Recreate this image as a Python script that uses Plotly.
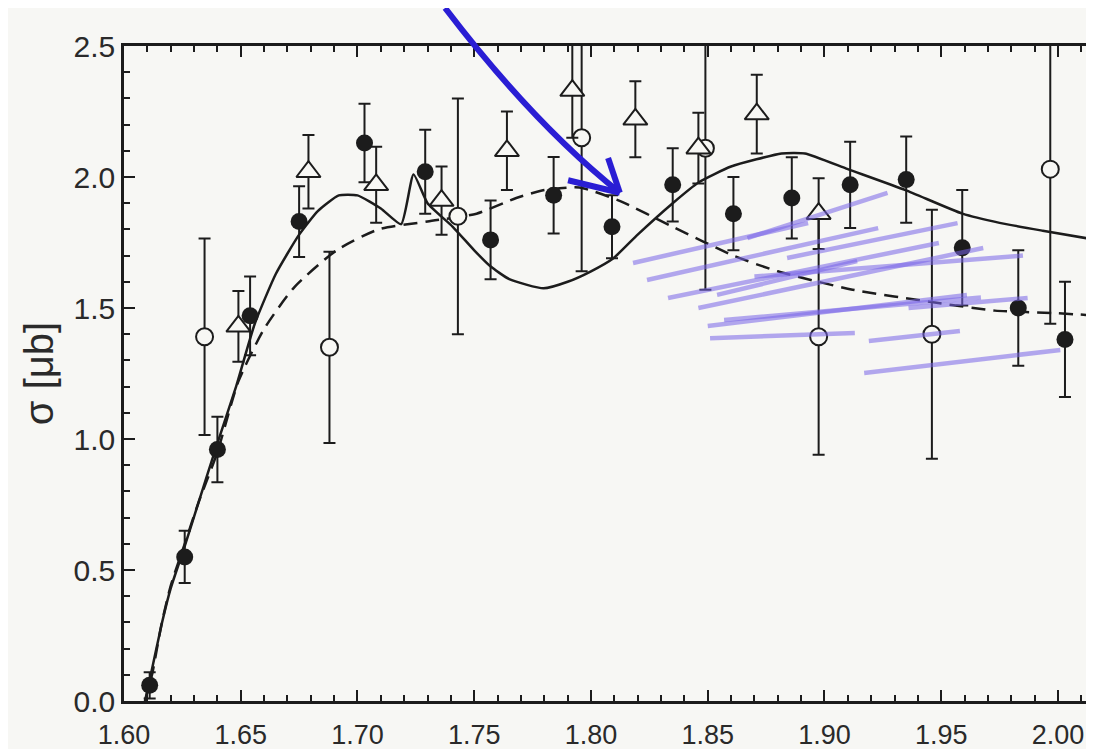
import plotly.graph_objects as go

# ---------------- data ----------------
# filled circles
filled_x = [1.611, 1.626, 1.640, 1.654, 1.675, 1.703, 1.729, 1.757, 1.784, 1.809,
            1.835, 1.861, 1.886, 1.911, 1.935, 1.959, 1.983, 2.003]
filled_y = [0.06, 0.55, 0.96, 1.47, 1.83, 2.13, 2.02, 1.76, 1.93, 1.81,
            1.97, 1.86, 1.92, 1.97, 1.99, 1.73, 1.50, 1.38]
filled_err = [0.05, 0.10, 0.125, 0.15, 0.135, 0.15, 0.16, 0.15, 0.146, 0.12,
              0.14, 0.14, 0.155, 0.165, 0.165, 0.22, 0.22, 0.22]

# open circles
open_x = [1.6345, 1.688, 1.743, 1.796, 1.849, 1.8975, 1.946, 1.9967]
open_y = [1.39, 1.35, 1.85, 2.15, 2.11, 1.39, 1.40, 2.03]
open_err = [0.375, 0.365, 0.45, 0.51, 0.54, 0.45, 0.475, 0.59]

# open triangles
tri_x = [1.649, 1.679, 1.708, 1.736, 1.764, 1.792, 1.819, 1.846, 1.871, 1.8975]
tri_y = [1.43, 2.02, 1.97, 1.91, 2.10, 2.33, 2.22, 2.11, 2.24, 1.86]
tri_err = [0.135, 0.14, 0.145, 0.13, 0.15, 0.18, 0.145, 0.135, 0.15, 0.135]

# solid model curve
solid_x = [1.609, 1.611, 1.6163, 1.620, 1.6256, 1.632, 1.6395, 1.648, 1.656, 1.665,
           1.675, 1.683, 1.692, 1.700, 1.710, 1.7187, 1.724, 1.730, 1.7408, 1.750,
           1.7568, 1.765, 1.7797, 1.790, 1.800, 1.8096, 1.820, 1.835, 1.8462, 1.860,
           1.8816, 1.8916, 1.910, 1.9347, 1.9591, 1.975, 1.9935, 2.0164]
solid_y = [0.00, 0.08, 0.30, 0.43, 0.58, 0.76, 0.97, 1.20, 1.44, 1.63,
           1.78, 1.87, 1.93, 1.93, 1.88, 1.82, 2.01, 1.90, 1.81, 1.72,
           1.66, 1.61, 1.575, 1.60, 1.64, 1.69, 1.78, 1.90, 1.98, 2.04,
           2.09, 2.09, 2.03, 1.95, 1.86, 1.825, 1.795, 1.76]

# dashed model curve
dashed_x = [1.609, 1.612, 1.616, 1.620, 1.626, 1.632, 1.640, 1.649, 1.660, 1.673,
            1.691, 1.709, 1.730, 1.751, 1.768, 1.780, 1.795, 1.812, 1.835, 1.861,
            1.880, 1.912, 1.948, 1.973, 2.000, 2.018]
dashed_y = [0.00, 0.10, 0.29, 0.44, 0.60, 0.76, 0.95, 1.22, 1.42, 1.58,
            1.72, 1.80, 1.83, 1.86, 1.92, 1.95, 1.96, 1.91, 1.81, 1.70,
            1.64, 1.57, 1.52, 1.49, 1.48, 1.47]

x_ticks = [1.60, 1.65, 1.70, 1.75, 1.80, 1.85, 1.90, 1.95, 2.00]
y_ticks = [0.0, 0.5, 1.0, 1.5, 2.0, 2.5]

# hand-drawn highlight strokes on the scan (x0, y0, x1, y1) in data units
scribbles = [
    (1.818, 1.672, 1.893, 1.824), (1.824, 1.607, 1.923, 1.805),
    (1.833, 1.538, 1.949, 1.748), (1.846, 1.500, 1.968, 1.729),
    (1.850, 1.431, 1.961, 1.550), (1.854, 1.550, 1.914, 1.679),
    (1.857, 1.454, 1.967, 1.540), (1.851, 1.385, 1.913, 1.405),
    (1.919, 1.374, 1.958, 1.412), (1.917, 1.252, 2.001, 1.340),
    (1.867, 1.767, 1.927, 1.939), (1.884, 1.691, 1.957, 1.824),
    (1.936, 1.500, 1.987, 1.538), (1.870, 1.620, 1.985, 1.700),
]

# hand-drawn blue arrow on the scan (paper units)
arrow_path = "M 0.329,1.058 Q 0.419,0.882 0.508,0.776"
arrow_head = [(0.508, 0.776, 0.455, 0.795), (0.508, 0.776, 0.496, 0.829)]

INK = "#1c1c1c"
PAPER = "#f7f7f4"
TXT = "#2a2a2a"
FONT = "Liberation Sans"
BLUE = "#2a1ed4"

fig = go.Figure()

fig.add_trace(go.Scatter(x=dashed_x, y=dashed_y, mode="lines",
                         line=dict(color=INK, width=2.5, dash="14px,8px", shape="spline", smoothing=0.6),
                         hoverinfo="skip", showlegend=False))
fig.add_trace(go.Scatter(x=solid_x, y=solid_y, mode="lines",
                         line=dict(color=INK, width=2.5, shape="spline", smoothing=0.5),
                         hoverinfo="skip", showlegend=False))

errstyle = dict(type="data", color=INK, thickness=2, width=6)

fig.add_trace(go.Scatter(x=open_x, y=open_y, mode="markers",
                         error_y=dict(array=open_err, **errstyle),
                         marker=dict(symbol="circle", size=17, color=PAPER,
                                     line=dict(color=INK, width=2)),
                         showlegend=False))
fig.add_trace(go.Scatter(x=tri_x, y=tri_y, mode="markers",
                         error_y=dict(array=tri_err, **errstyle),
                         marker=dict(symbol="triangle-up", size=21, color=PAPER,
                                     line=dict(color=INK, width=2)),
                         showlegend=False))
fig.add_trace(go.Scatter(x=filled_x, y=filled_y, mode="markers",
                         error_y=dict(array=filled_err, **errstyle),
                         marker=dict(symbol="circle", size=17, color=INK,
                                     line=dict(color=INK, width=0)),
                         showlegend=False))

for (x0, y0, x1, y1) in scribbles:
    fig.add_shape(type="line", xref="x", yref="y", x0=x0, y0=y0, x1=x1, y1=y1,
                  line=dict(color="rgba(120,100,232,0.55)", width=4.5), layer="above")

fig.add_shape(type="path", xref="paper", yref="paper", path=arrow_path,
              line=dict(color=BLUE, width=6), layer="above")
for (x0, y0, x1, y1) in arrow_head:
    fig.add_shape(type="line", xref="paper", yref="paper", x0=x0, y0=y0, x1=x1, y1=y1,
                  line=dict(color=BLUE, width=6), layer="above")

axis_common = dict(showline=True, linecolor=INK, linewidth=2.5, mirror="ticks",
                   ticks="inside", ticklen=11, tickwidth=2, tickcolor=INK,
                   showgrid=False, zeroline=False, automargin=False)

fig.update_xaxes(range=[1.60, 2.018], tickvals=x_ticks, tickformat=".2f",
                 minor=dict(dtick=0.01, ticks="inside", ticklen=6, tickwidth=1.5,
                            tickcolor=INK, showgrid=False),
                 tickfont=dict(family=FONT, size=27, color=TXT),
                 ticklabelstandoff=8, **axis_common)
fig.update_yaxes(range=[0, 2.5], tickvals=y_ticks, tickformat=".1f",
                 minor=dict(dtick=0.1, ticks="inside", ticklen=6, tickwidth=1.5,
                            tickcolor=INK, showgrid=False),
                 tickfont=dict(family=FONT, size=30, color=TXT),
                 title=dict(text="σ [μb]", font=dict(family=FONT, size=40, color=TXT),
                            standoff=8),
                 **axis_common)

fig.update_layout(width=1094, height=749,
                  margin=dict(l=116, r=2, t=38, b=56),
                  paper_bgcolor=PAPER, plot_bgcolor=PAPER,
                  showlegend=False)

fig.write_html("out.html")
